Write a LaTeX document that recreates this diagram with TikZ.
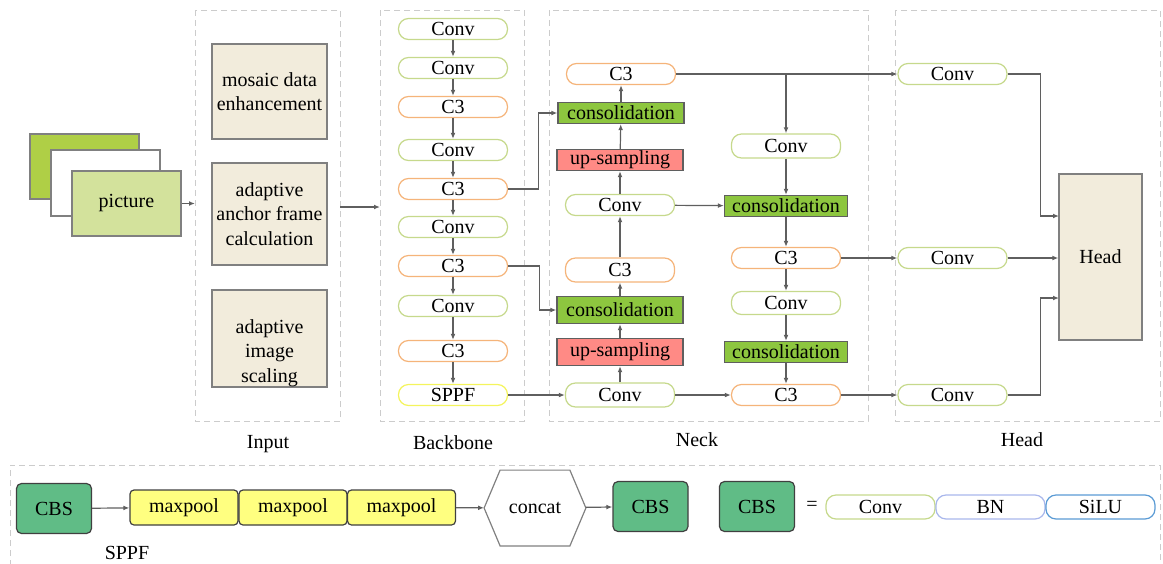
\documentclass[tikz,border=0pt]{standalone}
\usepackage{fontspec}
\setmainfont{Liberation Serif}
\newfontfamily\nodefont{Liberation Serif}
\usepackage{tikz}
\usetikzlibrary{arrows.meta,positioning,shapes.geometric}

\definecolor{convline}{HTML}{C6D98C}
\definecolor{cthreeline}{HTML}{F5B47A}
\definecolor{sppfline}{HTML}{F4F45C}
\definecolor{bnline}{HTML}{A9B7EC}
\definecolor{siluline}{HTML}{5B9BD5}
\definecolor{consfill}{HTML}{8DC63F}
\definecolor{upfill}{HTML}{FF8A85}
\definecolor{tanfill}{HTML}{F2ECDC}
\definecolor{cbsfill}{HTML}{60BC86}
\definecolor{poolfill}{HTML}{FFFF80}
\definecolor{picback}{HTML}{AFCF46}
\definecolor{picfront}{HTML}{D3E29C}
\definecolor{linegray}{HTML}{5F5F5F}

\tikzset{
  pill/.style={draw, fill=white, rounded corners=5pt, line width=0.6pt,
    minimum width=54.5pt, minimum height=10.5pt, inner sep=0pt},
  conv/.style={pill, draw=convline},
  cthree/.style={pill, draw=cthreeline},
  sppf/.style={pill, draw=sppfline},
  cons/.style={draw=linegray, fill=consfill, line width=0.6pt,
    minimum width=63pt, minimum height=10.5pt, inner sep=0pt},
  upsamp/.style={cons, fill=upfill},
  tanbox/.style={draw=gray, fill=tanfill, line width=0.6pt, align=center,
    minimum width=57.5pt, inner sep=0pt},
  group/.style={draw=gray!40, dashed, dash pattern=on 3pt off 2pt, line width=0.5pt},
  link/.style={draw=linegray, line width=0.6pt, -{Latex[length=3pt,width=2.4pt]}},
  cbs/.style={draw=black!75, fill=cbsfill, rounded corners=2.5pt, line width=0.6pt,
    minimum width=37.5pt, minimum height=25pt, inner sep=0pt},
  pool/.style={draw=black!75, fill=poolfill, rounded corners=2pt, line width=0.6pt,
    minimum width=54pt, minimum height=17.5pt, inner sep=0pt},
}

\begin{document}
\begin{tikzpicture}[x=0.5pt, y=-0.5pt, font=\nodefont\fontsize{10}{12.3}\selectfont]
\useasboundingbox (0,0) rectangle (1163,563);

% dashed groups
\draw[group] (195,10) rectangle (340,421);
\draw[group] (380,10) rectangle (524,421);
\draw[group] (549,10) rectangle (868,421);
\draw[group] (895,10) rectangle (1160,421);
\draw[group] (10,566) -- (10,465) -- (1160,465) -- (1160,566);

\node at (268,444) {Input};
\node at (453,443) {Backbone};
\node at (697,440) {Neck};
\node at (1022,440) {Head};

% input picture stack
\draw[gray, fill=picback, line width=0.6pt] (30,134) rectangle (139,199);
\draw[gray, fill=white, line width=0.6pt] (51,150) rectangle (160,216);
\node[draw=gray, fill=picfront, line width=0.6pt, minimum width=54.5pt,
  minimum height=32.5pt, inner sep=0pt] (pic) at (126.5,203.5) {picture};

\node[tanbox, minimum height=47.5pt] (in1) at (269.5,91.5) {mosaic data\\enhancement};
\node[tanbox, minimum height=51pt] (in2) at (269.5,214) {adaptive\\anchor frame\\calculation};
\node[tanbox, minimum height=48.5pt] (in3) at (269.5,338.5) {};
\node[align=center] (in3txt) at (269.5,353) {adaptive\\image\\scaling};

\coordinate (inleft) at (195,203.5);
\coordinate (inright) at (340,207);
\coordinate (bbleft) at (380,207);
\draw[link] (pic.east) -- (inleft);
\draw[link] (inright) -- (bbleft);

% backbone
\node[conv]   (b1)  at (453,29)  {Conv};
\node[conv]   (b2)  at (453,68)  {Conv};
\node[cthree] (b3)  at (453,107) {C3};
\node[conv]   (b4)  at (453,150) {Conv};
\node[cthree] (b5)  at (453,189) {C3};
\node[conv]   (b6)  at (453,227) {Conv};
\node[cthree] (b7)  at (453,266) {C3};
\node[conv]   (b8)  at (453,306) {Conv};
\node[cthree] (b9)  at (453,351) {C3};
\node[sppf]   (b10) at (453,395) {SPPF};
\foreach \a/\b in {b1/b2,b2/b3,b3/b4,b4/b5,b5/b6,b6/b7,b7/b8,b8/b9,b9/b10}
  \draw[link] (\a) -- (\b);

% neck, left column
\node[cthree] (n1) at (621,74)  {C3};
\node[cons]   (n2) at (621,113) {consolidation};
\node[upsamp] (n3) at (620,160) {up-sampling};
\node[conv]   (n4) at (620,205) {Conv};
\node[cthree, minimum height=12pt]   (n5) at (620,270) {C3};
\node[cons, minimum height=13.5pt]   (n6) at (620,310) {consolidation};
\node[upsamp, minimum height=13.5pt] (n7) at (620,352) {up-sampling};
\node[conv, minimum height=12pt]     (n8) at (620,395) {Conv};
\foreach \a/\b in {n8/n7,n7/n6,n6/n5,n5/n4,n4/n3,n3/n2,n2/n1}
  \draw[link] (\a) -- (\b);

% neck, right column
\node[conv, minimum height=12pt] (r1) at (786,146) {Conv};
\node[cons, minimum width=61.5pt] (r2) at (786,206) {consolidation};
\node[cthree] (r3) at (786,258) {C3};
\node[conv, minimum height=11.5pt] (r4) at (786,303) {Conv};
\node[cons, minimum width=61.5pt] (r5) at (786,352) {consolidation};
\node[cthree] (r6) at (786,395) {C3};
\foreach \a/\b in {r1/r2,r2/r3,r3/r4,r4/r5,r5/r6}
  \draw[link] (\a) -- (\b);

% head
\node[conv] (h1) at (952.5,74)  {Conv};
\node[conv] (h2) at (952.5,258) {Conv};
\node[conv] (h3) at (952.5,395) {Conv};
\node[draw=gray, fill=tanfill, line width=0.6pt, minimum width=41.5pt,
  minimum height=83pt, inner sep=0pt] (head) at (1100.5,257) {Head};
\coordinate (hin1) at (1059,216);
\coordinate (hin3) at (1059,298);

% cross links
\draw[link] (b5.east) -- ++(30,0) |- (n2.west);
\draw[link] (b7.east) -- ++(31,0) |- (n6.west);
\draw[link] (b10) -- (n8);
\draw[link] (n1) -- (h1);
\draw[link] (n1.east -| r1.north) -- (r1.north);
\draw[link] (n4) -- (r2);
\draw[link] (n8) -- (r6);
\draw[link] (r3) -- (h2);
\draw[link] (r6) -- (h3);
\draw[link] (h1.east) -- ++(33,0) |- (hin1);
\draw[link] (h2.east) -- (h2.east -| head.west);
\draw[link] (h3.east) -- ++(33,0) |- (hin3);

% SPPF and CBS legend
\node[cbs] (s1) at (54,508.5) {CBS};
\node[pool] (m1) at (184,507.5) {maxpool};
\node[pool] (m2) at (293,507.5) {maxpool};
\node[pool] (m3) at (401.5,507.5) {maxpool};
\node[minimum width=50.5pt, minimum height=37.5pt, inner sep=0pt] (cat) at (535,508) {concat};
\draw[gray, line width=0.6pt] (cat.west) -- ([xshift=8pt]cat.north west) -- ([xshift=-8pt]cat.north east)
  -- (cat.east) -- ([xshift=-8pt]cat.south east) -- ([xshift=8pt]cat.south west) -- cycle;
\node[cbs] (s2) at (650.5,506.5) {CBS};
\draw[link] (s1) -- (m1);
\draw[link] (m3) -- (cat);
\draw[link] (cat) -- (s2);
\node at (127,553) {SPPF};

\node[cbs] (s3) at (757,506.5) {CBS};
\node (eq) at (812,506) {=};
\node[conv, minimum height=12pt] (l1) at (880.5,507) {Conv};
\node[pill, draw=bnline, minimum height=12pt] (l2) at (990.5,507) {BN};
\node[pill, draw=siluline, minimum height=12pt] (l3) at (1100.5,507) {SiLU};
\end{tikzpicture}
\end{document}
